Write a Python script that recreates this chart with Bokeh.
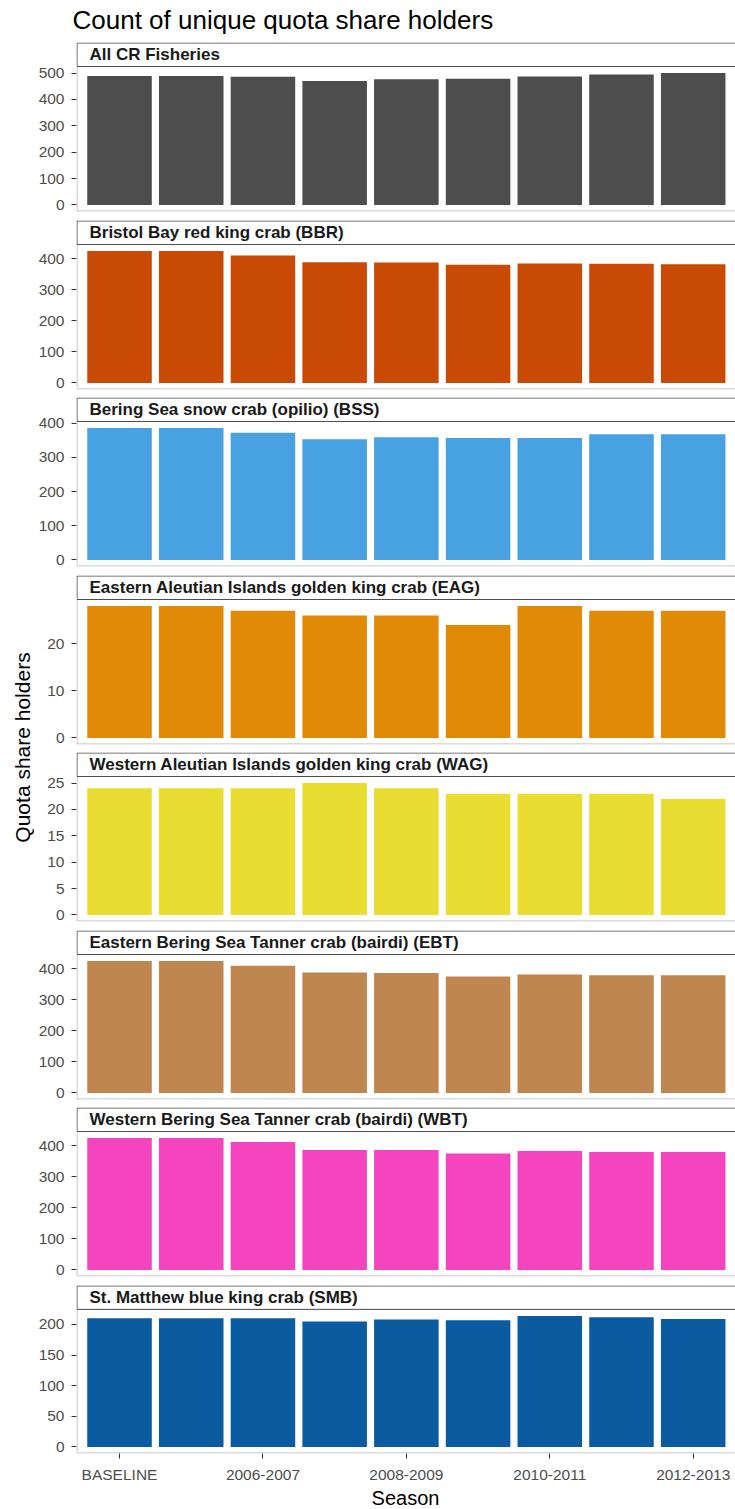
from math import pi
from bokeh.plotting import figure
from bokeh.layouts import column, row
from bokeh.models import Range1d, FixedTicker
from bokeh.core.properties import value
from bokeh.embed import file_html
from bokeh.resources import INLINE

# ---------------- data ----------------
seasons = ["BASELINE", "2005-2006", "2006-2007", "2007-2008", "2008-2009",
           "2009-2010", "2010-2011", "2011-2012", "2012-2013"]

fisheries = [
    "All CR Fisheries",
    "Bristol Bay red king crab (BBR)",
    "Bering Sea snow crab (opilio) (BSS)",
    "Eastern Aleutian Islands golden king crab (EAG)",
    "Western Aleutian Islands golden king crab (WAG)",
    "Eastern Bering Sea Tanner crab (bairdi) (EBT)",
    "Western Bering Sea Tanner crab (bairdi) (WBT)",
    "St. Matthew blue king crab (SMB)",
]

all_cr = [489, 489, 486, 470, 477, 479, 487, 495, 500]
bbr = [424, 424, 410, 388, 387, 380, 384, 383, 382]
bss = [386, 386, 372, 353, 359, 357, 357, 368, 368]
eag = [28, 28, 27, 26, 26, 24, 28, 27, 27]
wag = [24, 24, 24, 25, 24, 23, 23, 23, 22]
ebt = [425, 425, 410, 388, 387, 375, 382, 379, 379]
wbt = [425, 425, 412, 387, 387, 375, 383, 380, 380]
smb = [210, 210, 210, 205, 208, 207, 214, 212, 209]
series = [all_cr, bbr, bss, eag, wag, ebt, wbt, smb]

colors = ["#4D4D4D", "#C84A05", "#48A1E0", "#E08A07",
          "#E9DD32", "#C0864F", "#F545BE", "#0B5BA1"]

y_ticks = [
    [0, 100, 200, 300, 400, 500],
    [0, 100, 200, 300, 400],
    [0, 100, 200, 300, 400],
    [0, 10, 20],
    [0, 5, 10, 15, 20, 25],
    [0, 100, 200, 300, 400],
    [0, 100, 200, 300, 400],
    [0, 50, 100, 150, 200],
]

title_text = "Count of unique quota share holders"
x_title = "Season"
y_title = "Quota share holders"

# ---------------- style / layout ----------------
FONT = "Liberation Sans"
W = 735
YLAB_W = 34
FW = W - YLAB_W
LEFT = 42
STRIP_H = 24
PANEL_H = 145
GAPS = [9, 8, 9, 8, 9, 8, 9, 31]   # space below each facet (last: x axis)
SEASON_H = 24
TITLE_H = 42
X_START, X_END = 0.4, 9.59

xpos = [i + 1 for i in range(len(seasons))]
x_labels = {xpos[i]: seasons[i] for i in range(0, len(seasons), 2)}
px_per_x = (FW - LEFT) / (X_END - X_START)


def blank(width, height, xr, yr, left=0):
    p = figure(width=width, height=height, x_range=xr, y_range=yr,
               title=None,
               output_backend="svg", toolbar_location=None,
               x_axis_location=None, y_axis_location=None,
               min_border_left=left, min_border_right=0,
               min_border_top=0, min_border_bottom=0,
               outline_line_color=None,
               background_fill_color="white", border_fill_color="white")
    p.xgrid.visible = False
    p.ygrid.visible = False
    return p


# title
tf = blank(W, TITLE_H, Range1d(0, W), Range1d(0, TITLE_H))
tf.text(x=[72], y=[TITLE_H - 19], text=[title_text], text_font=value(FONT),
        text_font_size="26px", text_color="#000000",
        text_align="left", text_baseline="middle")

facet_figs = []
n = len(fisheries)
for i in range(n):
    last = (i == n - 1)
    bottom = GAPS[i]
    vals = series[i]
    m = max(vals)
    lo, hi = -0.05 * m, 1.05 * m
    y_per_px = (hi - lo) / PANEL_H
    strip_top = hi + STRIP_H * y_per_px
    pf = figure(width=FW, height=STRIP_H + PANEL_H + bottom,
                title=None,
                x_range=Range1d(X_START, X_END),
                y_range=Range1d(lo, strip_top),
                output_backend="svg", toolbar_location=None,
                x_axis_location="below" if last else None,
                y_axis_location="left",
                min_border_left=LEFT, min_border_right=0,
                min_border_top=0, min_border_bottom=bottom,
                outline_line_color=None,
                background_fill_color="white", border_fill_color="white")
    pf.xgrid.visible = False
    pf.ygrid.visible = False
    pf.vbar(x=xpos, top=vals, bottom=0, width=0.9,
            fill_color=colors[i], line_color=None)

    ex = 0.5 / px_per_x
    ey = 0.5 * y_per_px
    # panel border (right side lies beyond the visible edge)
    pf.quad(left=[X_START + ex], right=[X_END + 1], bottom=[lo + ey], top=[hi],
            fill_color=None, line_color="#B8B8B8", line_width=1)
    # strip box
    pf.quad(left=[X_START + ex], right=[X_END + 1], bottom=[hi],
            top=[strip_top - ey], fill_color="white",
            line_color="#4D4D4D", line_width=1)
    pf.text(x=[X_START + 13 / px_per_x], y=[(hi + strip_top) / 2],
            text=[fisheries[i]], text_font=value(FONT),
            text_font_size="17px", text_font_style="bold",
            text_color="#1A1A1A", text_align="left", text_baseline="middle")

    ya = pf.yaxis[0]
    ya.ticker = FixedTicker(ticks=y_ticks[i], minor_ticks=[])
    ya.axis_line_color = None
    ya.major_tick_line_color = "#333333"
    ya.major_tick_out = 5
    ya.major_tick_in = 0
    ya.minor_tick_line_color = None
    ya.major_label_standoff = 7
    ya.major_label_text_font = FONT
    ya.major_label_text_font_size = "15.5px"
    ya.major_label_text_color = "#4D4D4D"

    if last:
        xa = pf.xaxis[0]
        xa.ticker = FixedTicker(ticks=list(x_labels.keys()), minor_ticks=[])
        xa.major_label_overrides = x_labels
        xa.axis_line_color = None
        xa.major_tick_line_color = "#333333"
        xa.major_tick_out = 5
        xa.major_tick_in = 0
        xa.minor_tick_line_color = None
        xa.major_label_standoff = 7
        xa.major_label_text_font = FONT
        xa.major_label_text_font_size = "15.5px"
        xa.major_label_text_color = "#4D4D4D"
    facet_figs.append(pf)

# x title (frame aligned with the panels' frames)
season_fig = blank(FW, SEASON_H, Range1d(0, FW - LEFT), Range1d(0, SEASON_H),
                   left=LEFT)
season_fig.text(x=[405 - YLAB_W - LEFT], y=[SEASON_H / 2], text=[x_title],
                text_font=value(FONT), text_font_size="20px",
                text_color="#000000", text_align="center",
                text_baseline="middle")
facet_figs.append(season_fig)

col_h = sum(GAPS) + n * (STRIP_H + PANEL_H) + SEASON_H
ylab = blank(YLAB_W, col_h, Range1d(0, YLAB_W), Range1d(0, col_h))
ylab.text(x=[22], y=[TITLE_H + col_h - 747], text=[y_title], angle=pi / 2,
          text_font=value(FONT), text_font_size="21px", text_color="#000000",
          text_align="center", text_baseline="middle")

layout = column(tf, row(ylab, column(*facet_figs, spacing=0), spacing=0),
                spacing=0)

open("out.html", "w").write(file_html(layout, INLINE))
